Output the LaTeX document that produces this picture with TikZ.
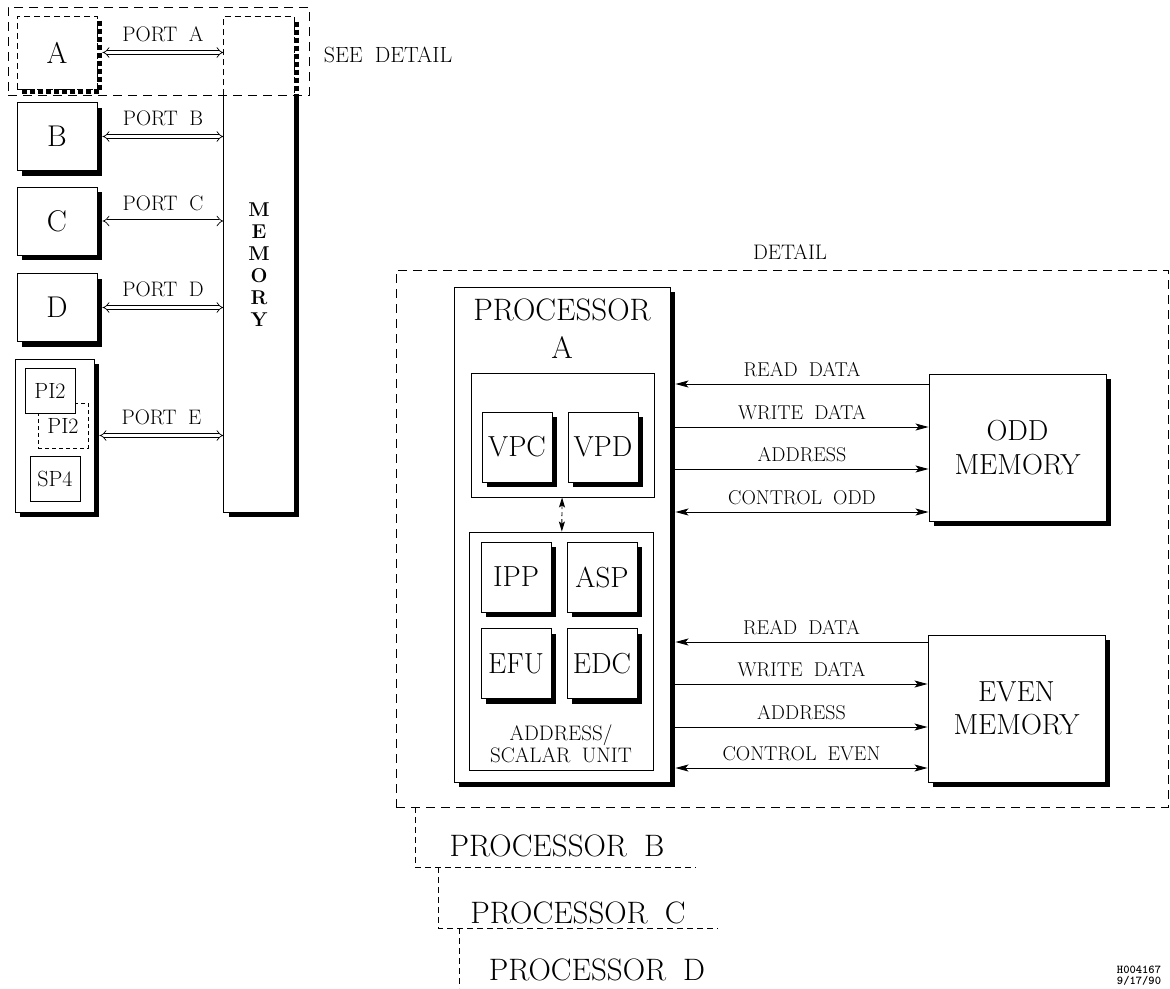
\documentclass[tikz,border=0pt]{standalone}
\usepackage{tikz}
\usetikzlibrary{positioning, arrows.meta, shadows, calc}

\newcommand\fsz[2]{\fontsize{#1}{#2}\selectfont\spaceskip=.55em\relax}

\begin{document}
\begin{tikzpicture}[x=1pt, y=-1pt, line width=0.9pt,
  >={Stealth[length=13pt, width=7pt, inset=3pt]},
  shad/.style={drop shadow={shadow xshift=5pt, shadow yshift=-5pt, opacity=1, fill=black}},
  cpu/.style={draw, fill=white, minimum width=80pt, minimum height=68pt,
              inner sep=0pt, font=\fsz{30}{36}},
  sub/.style={draw, fill=white, minimum width=50pt, minimum height=45pt,
              inner sep=0pt, font=\fsz{22}{26}},
  chip/.style={draw, fill=white, shad, minimum width=70pt, minimum height=70pt,
              inner sep=0pt, font=\fsz{29}{34}},
  grp/.style={draw, fill=white, inner sep=0pt},
  lbl/.style={font=\fsz{21}{25}, inner sep=2pt},
  siglbl/.style={font=\fsz{20}{24}, inner sep=2pt},
  port/.style={double, double distance=3pt, line width=0.7pt, {Implies}-{Implies}},
  dsh/.style={dash pattern=on 9pt off 6pt},
  pdash/.style={dash pattern=on 6pt off 4pt},
  bigdash/.style={line width=5pt, dash pattern=on 5pt off 3pt}]
  \useasboundingbox (0,0) rectangle (1170,988);

  % ports into the shared memory
  \node[draw, dsh, minimum width=301pt, minimum height=88pt] (see) at (158.5,51) {};
  \node[lbl, font=\fsz{22}{26}, right=12pt of see, yshift=-4pt] (seelbl) {SEE DETAIL};
  \node[cpu, pdash, minimum height=73pt] (A) at (57,52.5) {A};
  \draw[bigdash] ([xshift=2.5pt, yshift=-5pt]A.north east) |- ([xshift=5pt, yshift=-2.5pt]A.south west);
  \node[cpu, shad] (B) at (57,136.5) {B};
  \node[cpu, shad] (C) at (57,221) {C};
  \node[cpu, shad] (D) at (57,307.5) {D};
  \node[grp, shad, minimum width=79pt, minimum height=153pt] (E) at (54.5,435.5) {};
  \node[sub, dash pattern=on 4pt off 3pt] (pi2b) at (63,425.5) {PI2};
  \node[sub] (pi2a) at (50,390.5) {PI2};
  \node[sub] (sp4) at (55,478.5) {SP4};

  \node[minimum width=70pt, minimum height=495pt, align=center,
        font=\fsz{20}{22}\bfseries] (mem) at (259,264.5) {M\\E\\M\\O\\R\\Y};
  \coordinate (memcut) at (mem.west |- see.south);
  \coordinate (memcutr) at (mem.east |- see.south);
  \draw (memcut) -- (mem.south west) -- (mem.south east) -- (memcutr);
  \draw[pdash] (memcut) -- (mem.north west) -- (mem.north east) -- (memcutr);
  \draw[line width=5pt] ([xshift=2.5pt]memcutr) |- ([xshift=5pt, yshift=-2.5pt]mem.south west);
  \draw[bigdash] ([xshift=2.5pt, yshift=-5pt]mem.north east) -- ([xshift=2.5pt]memcutr);

  \foreach \u in {A,B,C,D,E}
    \draw[port] ([xshift=5pt]\u.east) -- node[lbl, above=8pt] {PORT \u} (\u.east -| mem.west);

  % detail of processor A
  \node[draw, dsh, minimum width=772pt, minimum height=537pt] (detail) at (782,538.5) {};
  \node[lbl] (detlbl) at (790,252) {DETAIL};
  \node[draw, fill=white, shad, minimum width=216pt, minimum height=495pt] (procA) at (562,534.5) {};
  \node[below=2pt of procA.north, align=center, font=\fsz{31}{37.6}, inner sep=10pt] (procAlbl) {PROCESSOR\\A};

  \node[grp, minimum width=183pt, minimum height=124pt] (vpu) at (562.5,435) {};
  \node[chip] (vpc) at (517,447) {VPC};
  \node[chip] (vpd) at (603,447) {VPD};
  \node[grp, minimum width=184pt, minimum height=238pt] (asu) at (561,651) {};
  \node[chip] (ipp) at (516,577) {IPP};
  \node[chip] (asp) at (602,577) {ASP};
  \node[chip] (efu) at (516,663.5) {EFU};
  \node[chip] (edc) at (602,663.5) {EDC};
  \node[above=4pt of asu.south, align=center, font=\fsz{21}{22}] (asulbl) {ADDRESS/\\SCALAR UNIT};
  \draw[<->, dash pattern=on 4pt off 3pt, >={Stealth[length=10pt, width=6pt, inset=2pt]}] (vpu) -- (asu);

  \node[draw, fill=white, shad, minimum width=177pt, minimum height=147pt, align=center,
        font=\fsz{29}{34}] (odd) at (1017.5,447.5) {ODD\\MEMORY};
  \node[draw, fill=white, shad, minimum width=177pt, minimum height=147pt, align=center,
        font=\fsz{29}{33}] (even) at (1016.5,708.5) {EVEN\\MEMORY};
  \coordinate (pedge) at ([xshift=5pt]procA.east);
  \foreach \y/\txt/\dir in {384/READ DATA/<-, 427/WRITE DATA/->, 469/ADDRESS/->, 512/CONTROL ODD/<->}
    \draw[\dir] (pedge |- 0,\y) -- node[siglbl, above=5pt] {\txt} (odd.west |- 0,\y);
  \foreach \y/\txt/\dir in {642/READ DATA/<-, 684/WRITE DATA/->, 727/ADDRESS/->, 768/CONTROL EVEN/<->}
    \draw[\dir] (pedge |- 0,\y) -- node[siglbl, above=5pt] {\txt} (even.west |- 0,\y);

  % the other processors
  \node[font=\fsz{31}{37}] (procB) at (557,846) {PROCESSOR B};
  \node[font=\fsz{31}{37}] (procC) at (578,913) {PROCESSOR C};
  \node[font=\fsz{31}{37}] (procD) at (597,970) {PROCESSOR D};
  \draw[pdash] (415,807) |- (696,867);
  \draw[pdash] (438,867) |- (718,928);
  \draw[pdash] (459,928) -- (459,988);

  \node[align=center, inner sep=1pt, font=\ttfamily\bfseries\fontsize{12}{11}\selectfont] (stamp) at (1139,976) {H004167\\9/17/90};
\end{tikzpicture}
\end{document}
